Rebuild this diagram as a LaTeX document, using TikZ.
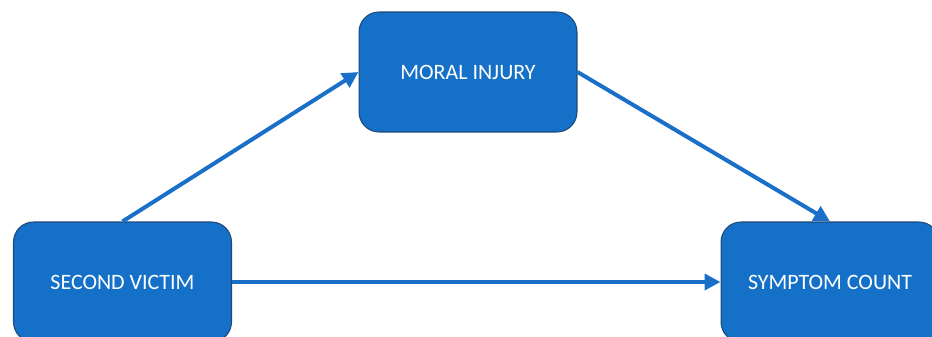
\documentclass[tikz,border=0pt]{standalone}
\usepackage{fontspec}
\setmainfont{Carlito}
\usepackage{xcolor}
\usetikzlibrary{arrows.meta,positioning}

\definecolor{boxblue}{RGB}{21,112,200}
\definecolor{boxedge}{RGB}{32,72,120}
\definecolor{linkblue}{RGB}{26,112,200}

\tikzset{
    stage/.style={draw=boxedge,line width=0.6pt,fill=boxblue,rounded corners=0.4cm,
        minimum width=4.36cm,minimum height=2.4cm,text=white,
        font=\fontsize{12.5}{15}\selectfont},
    link/.style={draw=linkblue,line width=0.08cm,
        -{Triangle[length=0.32cm,width=0.32cm]}}
}

\begin{document}
\begin{tikzpicture}[x=0.02cm,y=-0.02cm]
        % picture frame
        \clip (0,0) rectangle (932,337);

        % Variables
        \node[stage] (mediator) at (468,72) {MORAL INJURY};
        \node[stage] (victim) at (122.5,282) {SECOND VICTIM};
        \node[stage] (symptoms) at (830,282) {SYMPTOM COUNT};

        % Paths
        \draw[link] (victim.north) -- (mediator.west);
        \draw[link] (mediator.east) -- (symptoms.north);
        \draw[link] (victim.east) -- (symptoms.west);
    \end{tikzpicture}
\end{document}
